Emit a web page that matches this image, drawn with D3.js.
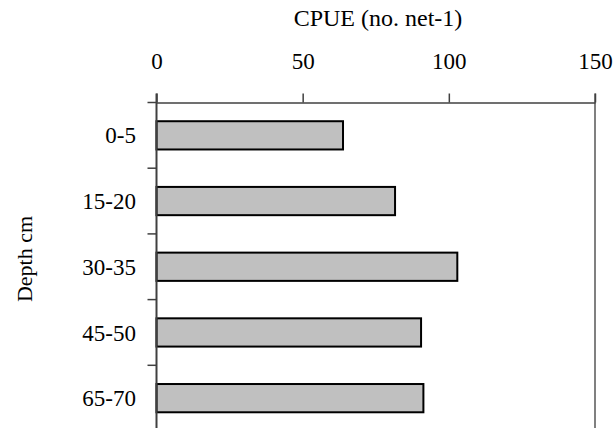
<!DOCTYPE html>
<html><head><meta charset="utf-8">
<script src="https://cdn.jsdelivr.net/npm/d3@7"></script>
<style>body{margin:0;background:#fff}svg{display:block}</style>
</head><body>
<svg id="c" width="613" height="428"></svg>
<script>
const categories = ["0-5","15-20","30-35","45-50","65-70"];
const values = [63.8, 81.6, 102.9, 90.5, 91.3];
const xTicks = [0, 50, 100, 150];
const xTitle = "CPUE (no. net-1)";
const yTitle = "Depth cm";

(function(){
const svg = d3.select("#c");
const font = "'Liberation Serif','Times New Roman',serif";
const pLeft = 156.5, pRight = 595, pTop = 102.5, pBottom = 431;
const x = d3.scaleLinear().domain([0,150]).range([pLeft,pRight]);
const y = d3.scaleBand().domain(categories).range([pTop,pBottom]).paddingInner(0.57).paddingOuter(0.285);

// bars
svg.append("g").selectAll("rect").data(values).join("rect")
  .attr("x", x(0)).attr("y",(d,i)=>y(categories[i]))
  .attr("width", d=>x(d)-x(0)).attr("height", y.bandwidth())
  .attr("fill","#c0c0c0").attr("stroke","#000").attr("stroke-width",2);

// right border line
svg.append("line").attr("x1",x(150)).attr("x2",x(150)).attr("y1",pTop-9).attr("y2",pBottom)
  .attr("stroke","#808080").attr("stroke-width",2);

// top axis
const gx = svg.append("g").attr("transform",`translate(0,${pTop})`)
  .call(d3.axisTop(x).tickValues(xTicks).tickSize(9).tickPadding(25).tickSizeOuter(0));
gx.select(".domain").attr("stroke","#404040").attr("stroke-width",1.5);
gx.selectAll(".tick line").attr("stroke","#404040").attr("stroke-width",1.5);
gx.selectAll(".tick text").attr("font-family",font).attr("font-size",23).attr("fill","#000");

// left axis with ticks at band boundaries
const step = y.step();
const bounds = d3.range(categories.length+1).map(i=>pTop+i*step);
svg.append("line").attr("x1",pLeft).attr("x2",pLeft).attr("y1",pTop-9).attr("y2",pBottom)
  .attr("stroke","#404040").attr("stroke-width",2);
svg.append("g").selectAll("line").data(bounds).join("line")
  .attr("x1",pLeft-9).attr("x2",pLeft).attr("y1",d=>d).attr("y2",d=>d)
  .attr("stroke","#404040").attr("stroke-width",1.5);
svg.append("g").selectAll("text").data(categories).join("text")
  .attr("x",136).attr("y",d=>y(d)+y.bandwidth()/2).attr("dy","0.35em")
  .attr("text-anchor","end").attr("font-family",font).attr("font-size",23).text(d=>d);

// titles
svg.append("text").attr("x",378).attr("y",26).attr("text-anchor","middle")
  .attr("font-family",font).attr("font-size",24).text(xTitle);
svg.append("text").attr("transform","translate(32,259) rotate(-90)").attr("text-anchor","middle")
  .attr("font-family",font).attr("font-size",22).text(yTitle);
})();
</script>
</body></html>
